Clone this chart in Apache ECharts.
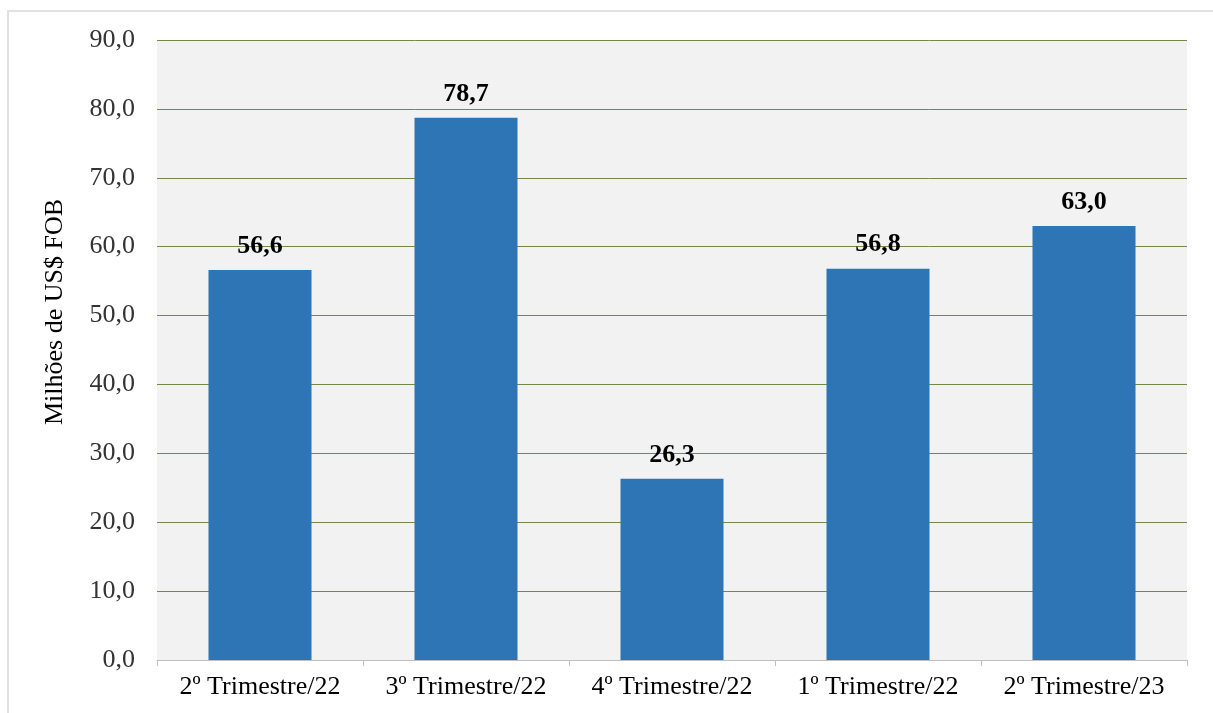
<!DOCTYPE html>
<html>
<head>
<meta charset="utf-8">
<script src="https://cdn.jsdelivr.net/npm/echarts@6/dist/echarts.min.js"></script>
<style>
html,body{margin:0;padding:0;background:#fff;}
#frame{position:absolute;left:7px;top:10px;width:1206px;height:703px;border-top:2px solid #e0e0e0;border-left:2px solid #e0e0e0;box-sizing:border-box;}
#chart{position:absolute;left:0;top:0;width:1213px;height:713px;}
</style>
</head>
<body>
<div id="frame"></div>
<div id="chart"></div>
<script>
const categories = ['2º Trimestre/22', '3º Trimestre/22', '4º Trimestre/22', '1º Trimestre/22', '2º Trimestre/23'];
const values = [56.6, 78.7, 26.3, 56.8, 63.0];
const yTicks = {min: 0, max: 90, interval: 10};

const fmt = v => Number(v).toFixed(1).replace('.', ',');
const chart = echarts.init(document.getElementById('chart'), null, {renderer: 'canvas'});
chart.setOption({
  animation: false,
  backgroundColor: 'transparent',
  grid: {left: 157, right: 26, top: 40, bottom: 53, show: true, backgroundColor: '#f2f2f2', borderWidth: 0},
  xAxis: {
    type: 'category',
    data: categories,
    axisLine: {lineStyle: {color: '#bfbfbf', width: 1}},
    axisTick: {show: true, length: 6, lineStyle: {color: '#bfbfbf'}},
    axisLabel: {color: '#000', fontFamily: 'Liberation Serif', fontSize: 26, margin: 14, interval: 0, hideOverlap: false}
  },
  yAxis: {
    type: 'value',
    min: yTicks.min, max: yTicks.max, interval: yTicks.interval,
    name: 'Milhões de US$ FOB',
    nameLocation: 'middle',
    nameGap: 89,
    nameTextStyle: {color: '#000', fontFamily: 'Liberation Serif', fontSize: 26, padding: [0, 0, 0, 76]},
    axisLine: {show: false},
    axisTick: {show: false},
    axisLabel: {color: '#333', fontFamily: 'Liberation Serif', fontSize: 26, margin: 22, formatter: fmt},
    splitLine: {lineStyle: {color: '#6f8a45', width: 1}}
  },
  series: [{
    type: 'bar',
    data: values,
    barWidth: '50%',
    itemStyle: {color: '#2e75b6'},
    label: {
      show: true, position: 'top', distance: 11,
      color: '#000', fontFamily: 'Liberation Serif', fontSize: 26, fontWeight: 'bold',
      formatter: p => fmt(p.value)
    }
  }]
});
</script>
</body>
</html>
